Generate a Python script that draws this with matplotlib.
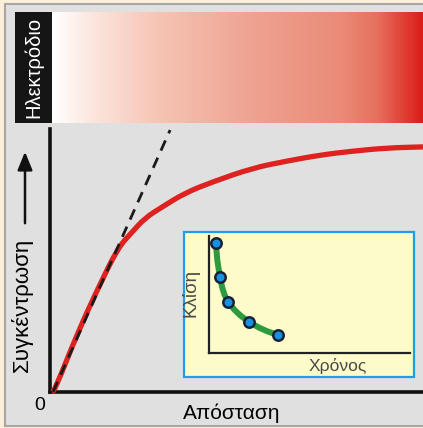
import numpy as np
import matplotlib
matplotlib.use("Agg")
import matplotlib.pyplot as plt
from matplotlib.patches import Rectangle, FancyArrowPatch, PathPatch
from matplotlib.path import Path
from matplotlib.colors import LinearSegmentedColormap

plt.rcParams['font.family'] = ['Liberation Sans', 'DejaVu Sans']

# ---- data ----
distance = [0.005, 0.013, 0.075, 0.129, 0.182, 0.220, 0.255, 0.300, 0.362,
            0.434, 0.544, 0.635, 0.724, 0.812, 0.903, 1.0]
concentration = [0.0, 0.008, 0.228, 0.395, 0.548, 0.608, 0.662, 0.703, 0.757,
                 0.798, 0.852, 0.878, 0.901, 0.916, 0.928, 0.932]
tangent_x = [0.008, 0.322]
tangent_y = [0.0, 0.996]

time_pts = [0.035, 0.055, 0.095, 0.199, 0.343]
slope_pts = [0.940, 0.650, 0.436, 0.265, 0.154]
time_curve = [0.035, 0.040, 0.055, 0.070, 0.095, 0.139, 0.199, 0.269, 0.343]
slope_curve = [0.940, 0.795, 0.650, 0.521, 0.436, 0.342, 0.265, 0.197, 0.154]

W, H = 423, 428
fig = plt.figure(figsize=(W / 100, H / 100), dpi=100)
fig.patch.set_facecolor('#fcefd9')

def box(x0, y0, x1, y1):
    return [x0 / W, 1 - y1 / H, (x1 - x0) / W, (y1 - y0) / H]

def smooth_path(xs, ys):
    pts = list(zip(xs, ys))
    verts = [pts[0]]
    codes = [Path.MOVETO]
    mids = [((pts[i][0] + pts[i + 1][0]) / 2, (pts[i][1] + pts[i + 1][1]) / 2)
            for i in range(len(pts) - 1)]
    verts.append(mids[0]); codes.append(Path.LINETO)
    for i in range(1, len(pts) - 1):
        verts += [pts[i], mids[i]]
        codes += [Path.CURVE3, Path.CURVE3]
    verts.append(pts[-1]); codes.append(Path.LINETO)
    return Path(verts, codes)

# gray panel
fig.patches.append(Rectangle((5 / W, 1 - 426 / H), (W) / W, (426 - 4) / H,
                             transform=fig.transFigure, facecolor='#e0e0e0',
                             edgecolor='#a6a6a6', linewidth=1.5, zorder=-10))

# electrode label box
fig.patches.append(Rectangle((15 / W, 1 - 123 / H), 37 / W, 111 / H,
                             transform=fig.transFigure, facecolor='#151515',
                             edgecolor='none', zorder=-5))
fig.text(34 / W, 1 - 67 / H, 'Ηλεκτρόδιο', color='white', rotation=90,
         ha='center', va='center', fontsize=14.5)

# gradient bar
gax = fig.add_axes(box(52, 12, 422, 123))
cmap = LinearSegmentedColormap.from_list('grad', [
    (0.0, '#ffffff'), (0.12, '#fbe3da'), (0.3, '#f6c2b2'), (0.55, '#efa190'),
    (0.78, '#ea8b78'), (0.88, '#e6705c'), (1.0, '#db1e1a')])
gax.imshow(np.linspace(0, 1, 400)[None, :], aspect='auto', cmap=cmap,
           extent=[0, 1, 0, 1])
gax.set_axis_off()

# main axes
ax = fig.add_axes(box(50, 129, 423, 392))
ax.set_zorder(0)
ax.set_facecolor('none')
ax.set_xlim(0, 1)
ax.set_ylim(0, 1)
for s in ['top', 'right']:
    ax.spines[s].set_visible(False)
for s in ['left', 'bottom']:
    ax.spines[s].set_linewidth(2.6)
    ax.spines[s].set_color('#111111')
ax.set_xticks([])
ax.set_yticks([])
ax.add_patch(PathPatch(smooth_path(distance, concentration), facecolor='none',
                       edgecolor='#dd2220', lw=3.8, capstyle='butt',
                       joinstyle='round', clip_on=False, zorder=3))
ax.plot(tangent_x, tangent_y, color='#1a1a1a', lw=2.0, ls=(0, (4, 2.8)),
        clip_on=False, zorder=4)

# axis labels
fig.text(40 / W, 1 - 406 / H, '0', ha='center', va='center', fontsize=14)
fig.text(232 / W, 1 - 413 / H, 'Απόσταση', ha='center', va='center', fontsize=15)
fig.text(22 / W, 1 - 305 / H, 'Συγκέντρωση', rotation=90, ha='center',
         va='center', fontsize=16)
fig.add_artist(FancyArrowPatch(
    (25 / W, 1 - 226 / H), (25 / W, 1 - 149 / H), transform=fig.transFigure,
    arrowstyle='-|>,head_length=11,head_width=4.5', color='#111111', lw=1.8,
    mutation_scale=1))

# inset box
fig.patches.append(Rectangle((184 / W, 1 - 377 / H), 230 / W, 145 / H,
                             transform=fig.transFigure, facecolor='#fdfbc9',
                             edgecolor='#1e9ee8', linewidth=1.6, zorder=1))
iax = fig.add_axes(box(209, 236, 410, 353))
iax.set_zorder(5)
iax.set_facecolor('none')
iax.set_xlim(0, 1)
iax.set_ylim(0, 1)
for s in ['top', 'right']:
    iax.spines[s].set_visible(False)
for s in ['left', 'bottom']:
    iax.spines[s].set_linewidth(1.6)
    iax.spines[s].set_color('#222222')
iax.set_xticks([])
iax.set_yticks([])
iax.add_patch(PathPatch(smooth_path(time_curve, slope_curve), facecolor='none',
                        edgecolor='#2e9a3e', lw=4.3, capstyle='round',
                        joinstyle='round', zorder=3))
iax.plot(time_pts, slope_pts, ls='none', marker='o', ms=7.5,
         markerfacecolor='#1a90e0', markeredgecolor='#152238', mew=1.8, zorder=4)
t1 = fig.text(190 / W, 1 - 293 / H, 'Κλίση', rotation=90, ha='center', va='center',
              fontsize=13.5, color='#4a4a4a')
t2 = fig.text(338 / W, 1 - 366 / H, 'Χρόνος', ha='center', va='center',
              fontsize=12.5, color='#4a4a4a')
t1.set_zorder(6)
t2.set_zorder(6)

fig.savefig('out.png', dpi=100, facecolor=fig.get_facecolor())
